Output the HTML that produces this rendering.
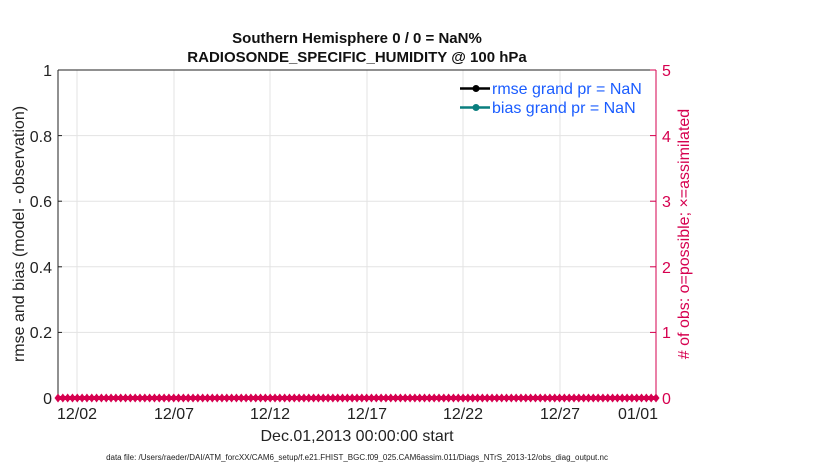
<!DOCTYPE html>
<html><head><style>body{margin:0;background:#fff}</style></head><body>
<svg width="830" height="470" xmlns="http://www.w3.org/2000/svg" font-family="Liberation Sans, sans-serif">
<rect width="830" height="470" fill="#fff"/>
<g stroke="#e3e3e3" stroke-width="1">
<line x1="77" y1="70" x2="77" y2="398"/><line x1="174" y1="70" x2="174" y2="398"/><line x1="270" y1="70" x2="270" y2="398"/><line x1="367" y1="70" x2="367" y2="398"/><line x1="463" y1="70" x2="463" y2="398"/><line x1="560" y1="70" x2="560" y2="398"/>
<line x1="58" y1="332.4" x2="656" y2="332.4"/><line x1="58" y1="266.8" x2="656" y2="266.8"/><line x1="58" y1="201.2" x2="656" y2="201.2"/><line x1="58" y1="135.6" x2="656" y2="135.6"/>
</g>
<line x1="58" y1="70" x2="656" y2="70" stroke="#222"/>
<line x1="58" y1="70" x2="58" y2="398" stroke="#222"/>
<line x1="58" y1="398" x2="656" y2="398" stroke="#222"/>
<line x1="656" y1="70" x2="656" y2="398" stroke="#d6004f"/>
<g stroke="#222"><line x1="58" y1="332.4" x2="62" y2="332.4"/><line x1="58" y1="266.8" x2="62" y2="266.8"/><line x1="58" y1="201.2" x2="62" y2="201.2"/><line x1="58" y1="135.6" x2="62" y2="135.6"/></g>
<g stroke="#d6004f"><line x1="650" y1="332.4" x2="656" y2="332.4"/><line x1="650" y1="266.8" x2="656" y2="266.8"/><line x1="650" y1="201.2" x2="656" y2="201.2"/><line x1="650" y1="135.6" x2="656" y2="135.6"/><line x1="650" y1="70" x2="656" y2="70"/></g>
<g font-size="16" fill="#222" text-anchor="end">
<text x="52" y="404">0</text><text x="52" y="338">0.2</text><text x="52" y="273">0.4</text><text x="52" y="207">0.6</text><text x="52" y="142">0.8</text><text x="52" y="76">1</text>
</g>
<g font-size="16" fill="#d6004f">
<text x="662" y="404">0</text><text x="662" y="338">1</text><text x="662" y="273">2</text><text x="662" y="207">3</text><text x="662" y="142">4</text><text x="662" y="76">5</text>
</g>
<g font-size="16" fill="#222" text-anchor="middle">
<text x="77" y="419">12/02</text><text x="174" y="419">12/07</text><text x="270" y="419">12/12</text><text x="367" y="419">12/17</text><text x="463" y="419">12/22</text><text x="560" y="419">12/27</text><text x="638" y="419">01/01</text>
<text x="357" y="441">Dec.01,2013 00:00:00 start</text>
</g>
<g font-size="15" font-weight="bold" fill="#111" text-anchor="middle">
<text x="357" y="43">Southern Hemisphere 0 / 0 = NaN%</text>
<text x="357" y="62">RADIOSONDE_SPECIFIC_HUMIDITY @ 100 hPa</text>
</g>
<text transform="translate(24,234) rotate(-90)" font-size="16" fill="#222" text-anchor="middle">rmse and bias (model - observation)</text>
<text transform="translate(689,234) rotate(-90)" font-size="16" fill="#d6004f" text-anchor="middle">#  of obs: o=possible; ×=assimilated</text>
<text x="357" y="460" font-size="8" fill="#222" text-anchor="middle">data file: /Users/raeder/DAI/ATM_forcXX/CAM6_setup/f.e21.FHIST_BGC.f09_025.CAM6assim.011/Diags_NTrS_2013-12/obs_diag_output.nc</text>
<line x1="460" y1="88.5" x2="490" y2="88.5" stroke="#000" stroke-width="2.5"/><circle cx="476" cy="88.5" r="3.5" fill="#000"/>
<line x1="460" y1="107.5" x2="490" y2="107.5" stroke="#0a7f7f" stroke-width="2.5"/><circle cx="476" cy="107.5" r="3.5" fill="#0a7f7f"/>
<g font-size="16" fill="#1a5cff"><text x="492" y="94">rmse grand pr = NaN</text><text x="492" y="113">bias grand pr = NaN</text></g>
<line x1="58" y1="398" x2="656" y2="398" stroke="#d6004f" stroke-width="4"/>
<g fill="#d6004f" id="m"></g>
</svg>
<script>
var g=document.getElementById('m'),s='';
for(var i=0;i<=124;i++){var x=58+i*598/124;s+='<path d="M'+(x-3.5)+' 398L'+x+' 393.5L'+(x+3.5)+' 398L'+x+' 402.5Z"/>';}
g.innerHTML=s;
</script>
</body></html>
